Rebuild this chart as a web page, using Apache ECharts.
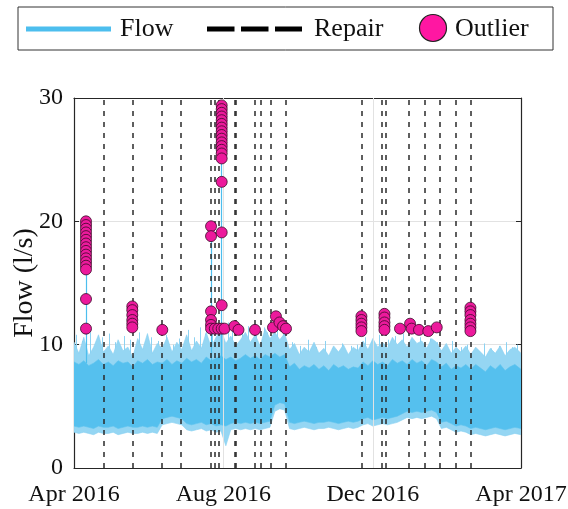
<!DOCTYPE html>
<html><head><meta charset="utf-8">
<script src="https://cdn.jsdelivr.net/npm/echarts@6/dist/echarts.min.js"></script>
<style>html,body{margin:0;padding:0;background:#fff}#c{width:568px;height:509px}</style>
</head><body><div id="c"></div>
<script>
const FONT = '"Liberation Serif","Times New Roman",Times,serif';

// x values are days since 1 Apr 2016
const tickDays = [0, 122, 244, 365];
const tickLabels = ['Apr 2016', 'Aug 2016', 'Dec 2016', 'Apr 2017'];
const gridDays = [122, 244];
const yTitle = 'Flow (l/s)';

const flowDays = [0,4,8,12,16,20,24,28,32,36,40,44,48,52,56,60,64,68,72,76,80,84,88,92,96,100,104,108,112,116,120,124,128,132,136,140,144,148,152,156,160,164,168,172,176,180,184,188,192,196,200,204,208,212,216,220,224,228,232,236,240,244,248,252,256,260,264,268,272,276,280,284,288,292,296,300,304,308,312,316,320,324,328,332,336,340,344,348,352,356,360,365];
// outer envelope of the dense flow trace (l/s)
const flowLow = [2.9,2.8,2.9,2.8,2.7,2.9,2.8,2.8,2.9,2.7,2.8,2.9,2.8,2.8,2.9,2.8,2.9,2.8,
  3.5,3.6,3.7,3.6,3.5,
  3.1,3.0,3.1,3.2,3.0,3.1,2.9,3.0,1.8,3.1,3.2,3.1,3.2,3.1,3.2,3.1,3.2,3.3,
  4.6,4.8,4.7,
  3.2,3.1,3.2,3.3,3.2,3.1,3.2,3.2,3.3,3.2,3.1,3.2,3.3,3.2,3.3,
  3.5,3.6,3.4,3.5,3.6,3.5,3.6,3.7,
  3.9,4.1,4.0,4.1,4.0,4.1,4.2,4.0,
  3.2,3.3,3.1,
  2.9,3.0,2.9,
  2.7,2.8,2.7,2.6,2.7,2.8,2.7,2.6,2.7,2.8,2.7];
const flowHigh = [10.2,9.3,10.6,9.1,9.8,10.8,9.4,9.9,9.2,10.4,9.5,9.8,9.0,10.5,9.6,10.9,9.3,10.1,
  9.7,10.6,9.4,10.2,9.6,
  10.8,9.5,10.3,9.7,11.0,9.8,10.6,11.2,10.1,10.7,9.9,10.4,11.0,10.2,10.8,9.9,11.3,10.5,
  11.0,10.4,10.9,
  9.6,10.1,9.2,9.8,9.4,10.2,9.3,9.7,9.1,9.9,9.4,10.0,9.2,9.8,9.5,
  10.3,9.6,10.5,9.8,10.2,9.7,10.6,10.0,
  10.4,9.8,10.6,10.1,10.3,9.7,10.5,10.2,
  9.5,10.1,9.3,9.8,9.4,9.9,
  9.2,9.8,9.4,9.0,9.7,9.3,9.9,9.1,9.6,9.8,9.3];
// dense core of the flow trace
const coreLow = [3.4,3.3,3.4,3.3,3.2,3.4,3.3,3.3,3.4,3.2,3.3,3.4,3.3,3.3,3.4,3.3,3.4,3.3,
  4.0,4.1,4.2,4.1,4.0,
  3.6,3.5,3.6,3.7,3.5,3.6,3.4,3.5,3.4,3.6,3.7,3.6,3.7,3.6,3.7,3.6,3.7,3.8,
  5.1,5.3,5.2,
  3.7,3.6,3.7,3.8,3.7,3.6,3.7,3.7,3.8,3.7,3.6,3.7,3.8,3.7,3.8,
  4.0,4.1,3.9,4.0,4.1,4.0,4.1,4.2,
  4.4,4.6,4.5,4.6,4.5,4.6,4.7,4.5,
  3.7,3.8,3.6,
  3.4,3.5,3.4,
  3.2,3.3,3.2,3.1,3.2,3.3,3.2,3.1,3.2,3.3,3.2];
const coreHigh = [8.6,8.4,8.7,8.3,8.5,8.8,8.4,8.6,8.3,8.7,8.5,8.6,8.2,8.7,8.5,8.8,8.4,8.6,
  8.5,8.8,8.4,8.7,8.5,
  8.9,8.6,8.8,8.5,9.0,8.7,8.9,9.1,8.8,9.0,8.7,8.9,9.2,8.9,9.1,8.8,9.2,9.0,
  9.3,9.0,9.2,
  8.2,8.5,8.0,8.3,8.1,8.4,8.0,8.3,7.9,8.4,8.1,8.3,8.0,8.2,8.1,
  8.6,8.3,8.7,8.4,8.6,8.3,8.8,8.5,
  8.7,8.4,8.8,8.5,8.7,8.3,8.8,8.6,
  8.2,8.5,8.0,8.3,8.1,8.4,
  8.0,8.4,8.1,7.8,8.3,8.0,8.4,7.9,8.2,8.4,8.0];

// isolated thin peaks of the flow trace above the band
const peakDays = [2,7,13,18,23,29,34,41,46,53,58,63,69,75,81,86,93,98,103,107,113,119,126,129,137,142,149,155,158,166,
  171,178,185,191,198,205,211,219,226,231,238,243,249,257,262,269,277,283,291,297,303,309,316,321,329,335,341,347,353,358,362];
const peakTops = [10.8,10.3,11.0,9.9,10.6,10.9,10.2,10.7,10.4,11.0,10.1,10.6,10.3,10.8,10.0,10.5,11.2,10.6,11.4,10.9,
  11.6,11.1,11.8,11.3,11.0,11.5,10.8,11.4,11.0,11.2,10.9,10.2,9.9,10.4,9.8,10.3,9.7,10.1,9.9,10.0,
  10.6,10.2,10.8,10.4,10.7,10.9,10.3,10.6,10.5,10.2,9.9,10.3,9.8,10.0,9.6,10.1,9.7,9.9,10.2,9.8,10.0];
const peakBase = 8.0;

// flow spikes reaching the high outliers
const spikeDays = [9.8, 111.9, 120.6];
const spikeTops = [20.0, 19.6, 29.4];
const spikeBase = 8.5;

const repairDays = [23.9, 47.6, 71.6, 87.4, 111.6, 114.6, 117.8, 130.9, 132.2, 147.4, 152.3, 160.9, 172.9,
  234.9, 251.2, 254.8, 273.5, 286.0, 298.8, 311.9, 323.7];

const outlierDays = [
  9.8,9.8,9.8,9.8,9.8,9.8,9.8,9.8,9.8,9.8,9.8,9.8,9.8,9.8,9.8,9.8,
  47.6,47.6,47.6,47.6,47.6,47.6,
  72.1,
  111.9,111.9,111.9,111.9,111.9,111.9,
  115.0,117.8,
  120.6,120.6,120.6,120.6,120.6,120.6,120.6,120.6,120.6,120.6,120.6,120.6,120.6,120.6,120.6,120.6,120.6,120.6,120.6,
  122.9,131.0,134.3,147.8,162.5,164.9,167.8,170.7,173.1,
  234.7,234.7,234.7,234.7,234.7,
  253.5,253.5,253.5,253.5,253.5,
  266.2,274.4,275.7,281.7,289.3,296.2,
  323.7,323.7,323.7,323.7,323.7,323.7,323.7];
const outlierValues = [
  20.0,19.7,19.4,19.1,18.8,18.5,18.2,17.9,17.6,17.3,17.0,16.7,16.4,16.1,13.7,11.3,
  13.1,12.8,12.4,12.0,11.7,11.4,
  11.2,
  19.6,18.8,12.7,12.0,11.6,11.3,
  11.3,11.3,
  29.4,29.1,28.8,28.5,28.2,27.9,27.6,27.3,27.0,26.7,26.4,26.1,25.8,25.5,25.1,23.2,19.1,13.2,11.3,
  11.3,11.5,11.2,11.2,11.4,12.3,11.8,11.5,11.3,
  12.3,12.0,11.7,11.4,11.1,
  12.5,12.2,11.8,11.5,11.2,
  11.3,11.7,11.3,11.2,11.1,11.4,
  13.0,12.7,12.4,12.0,11.7,11.4,11.1];

const AX = '#262626';
const chart = echarts.init(document.getElementById('c'), null, {renderer: 'canvas'});

function labelFor(v) {
  for (let i = 0; i < tickDays.length; i++) if (Math.abs(tickDays[i] - v) < 0.5) return tickLabels[i];
  return '';
}

function bandSeries(lowArr, highArr, fill, stroke, z) {
  return {
    type: 'custom', coordinateSystem: 'cartesian2d', xAxisIndex: 0, yAxisIndex: 0,
    silent: true, z: z, clip: true, data: [[0, 5]],
    renderItem: function (params, api) {
      const pts = [];
      for (let i = 0; i < flowDays.length; i++) pts.push(api.coord([flowDays[i], highArr[i]]));
      for (let i = flowDays.length - 1; i >= 0; i--) pts.push(api.coord([flowDays[i], lowArr[i]]));
      return {type: 'polygon', shape: {points: pts}, style: {fill: fill, stroke: stroke, lineWidth: 0.6}};
    }
  };
}

const xCommon = {
  type: 'value', min: 0, max: 365,
  axisLine: {show: true, onZero: false, lineStyle: {color: AX, width: 1.2}},
  axisTick: {show: true, inside: true, length: 5, customValues: tickDays, lineStyle: {color: AX, width: 1}},
  splitLine: {show: false}
};
const yCommon = {
  type: 'value', min: 0, max: 30, interval: 10,
  axisLine: {show: true, onZero: false, lineStyle: {color: AX, width: 1.2}},
  axisTick: {show: true, inside: true, length: 5, lineStyle: {color: AX, width: 1}}
};

const option = {
  animation: false,
  backgroundColor: '#fff',
  grid: {left: 74, right: 47, top: 98, bottom: 41, containLabel: false, outerBoundsMode: 'none'},
  xAxis: [
    Object.assign({}, xCommon, {position: 'bottom',
      axisLabel: {show: true, customValues: tickDays, formatter: labelFor, fontFamily: FONT, fontSize: 24, color: '#111', margin: 15}}),
    Object.assign({}, xCommon, {position: 'top', axisLabel: {show: false}})
  ],
  yAxis: [
    Object.assign({}, yCommon, {position: 'left',
      axisLabel: {show: true, fontFamily: FONT, fontSize: 24, color: '#111', margin: 11},
      splitLine: {show: true, lineStyle: {color: '#e2e2e2', width: 1}}}),
    Object.assign({}, yCommon, {position: 'right', axisLabel: {show: false}, splitLine: {show: false}})
  ],
  series: [
    {type: 'line', data: [], silent: true, z: 1,
      markLine: {symbol: 'none', silent: true, label: {show: false}, animation: false,
        lineStyle: {color: '#e2e2e2', width: 1, type: 'solid'},
        data: gridDays.map(d => ({xAxis: d}))}},
    {type: 'lines', coordinateSystem: 'cartesian2d', silent: true, z: 2,
      lineStyle: {color: '#8cd2f2', width: 1, opacity: 1},
      data: peakDays.map((d, i) => ({coords: [[d, peakBase], [d, peakTops[i]]]}))},
    bandSeries(flowLow, flowHigh, '#95d6f3', '#86d0f1', 2),
    bandSeries(coreLow, coreHigh, '#55c0ee', '#5cc3ef', 2),
    {type: 'lines', coordinateSystem: 'cartesian2d', silent: true, z: 3,
      lineStyle: {color: '#4DBEEE', width: 1.2, opacity: 1},
      data: spikeDays.map((d, i) => ({coords: [[d, spikeBase], [d, spikeTops[i]]]}))},
    {type: 'line', data: [], silent: true, z: 4,
      markLine: {symbol: 'none', silent: true, label: {show: false}, animation: false,
        lineStyle: {color: '#2a2a2a', width: 1.5, type: [5, 6]},
        data: repairDays.map(d => ({xAxis: d}))}},
    {type: 'scatter', symbol: 'circle', symbolSize: 11, z: 5, silent: true,
      itemStyle: {color: '#ec1a9c', borderColor: '#3a0a28', borderWidth: 0.8, opacity: 1},
      data: outlierDays.map((d, i) => [d, outlierValues[i]])}
  ],
  graphic: [
    {type: 'text', x: 25, y: 283, rotation: Math.PI / 2,
      style: {text: yTitle, font: '28px ' + FONT, fill: '#111', align: 'center', verticalAlign: 'middle', textAlign: 'center', textVerticalAlign: 'middle'}, z: 11},
    {type: 'rect', shape: {x: 18, y: 7, width: 535, height: 43}, style: {fill: '#fff', stroke: '#333', lineWidth: 1}, z: 10},
    {type: 'line', shape: {x1: 26, y1: 29, x2: 111, y2: 29}, style: {stroke: '#4DBEEE', lineWidth: 5}, z: 11},
    {type: 'text', x: 120, y: 29, style: {text: 'Flow', font: '26px ' + FONT, fill: '#111', textVerticalAlign: 'middle', verticalAlign: 'middle'}, z: 11},
    {type: 'line', shape: {x1: 207, y1: 29, x2: 302, y2: 29}, style: {stroke: '#000', lineWidth: 5, lineDash: [27.5, 6.5]}, z: 11},
    {type: 'text', x: 314, y: 29, style: {text: 'Repair', font: '26px ' + FONT, fill: '#111', textVerticalAlign: 'middle', verticalAlign: 'middle'}, z: 11},
    {type: 'circle', shape: {cx: 433, cy: 28, r: 13.5}, style: {fill: '#ff17a2', stroke: '#222', lineWidth: 1.2}, z: 11},
    {type: 'text', x: 455, y: 29, style: {text: 'Outlier', font: '26px ' + FONT, fill: '#111', textVerticalAlign: 'middle', verticalAlign: 'middle'}, z: 11}
  ]
};
chart.setOption(option);
</script>
</body></html>
